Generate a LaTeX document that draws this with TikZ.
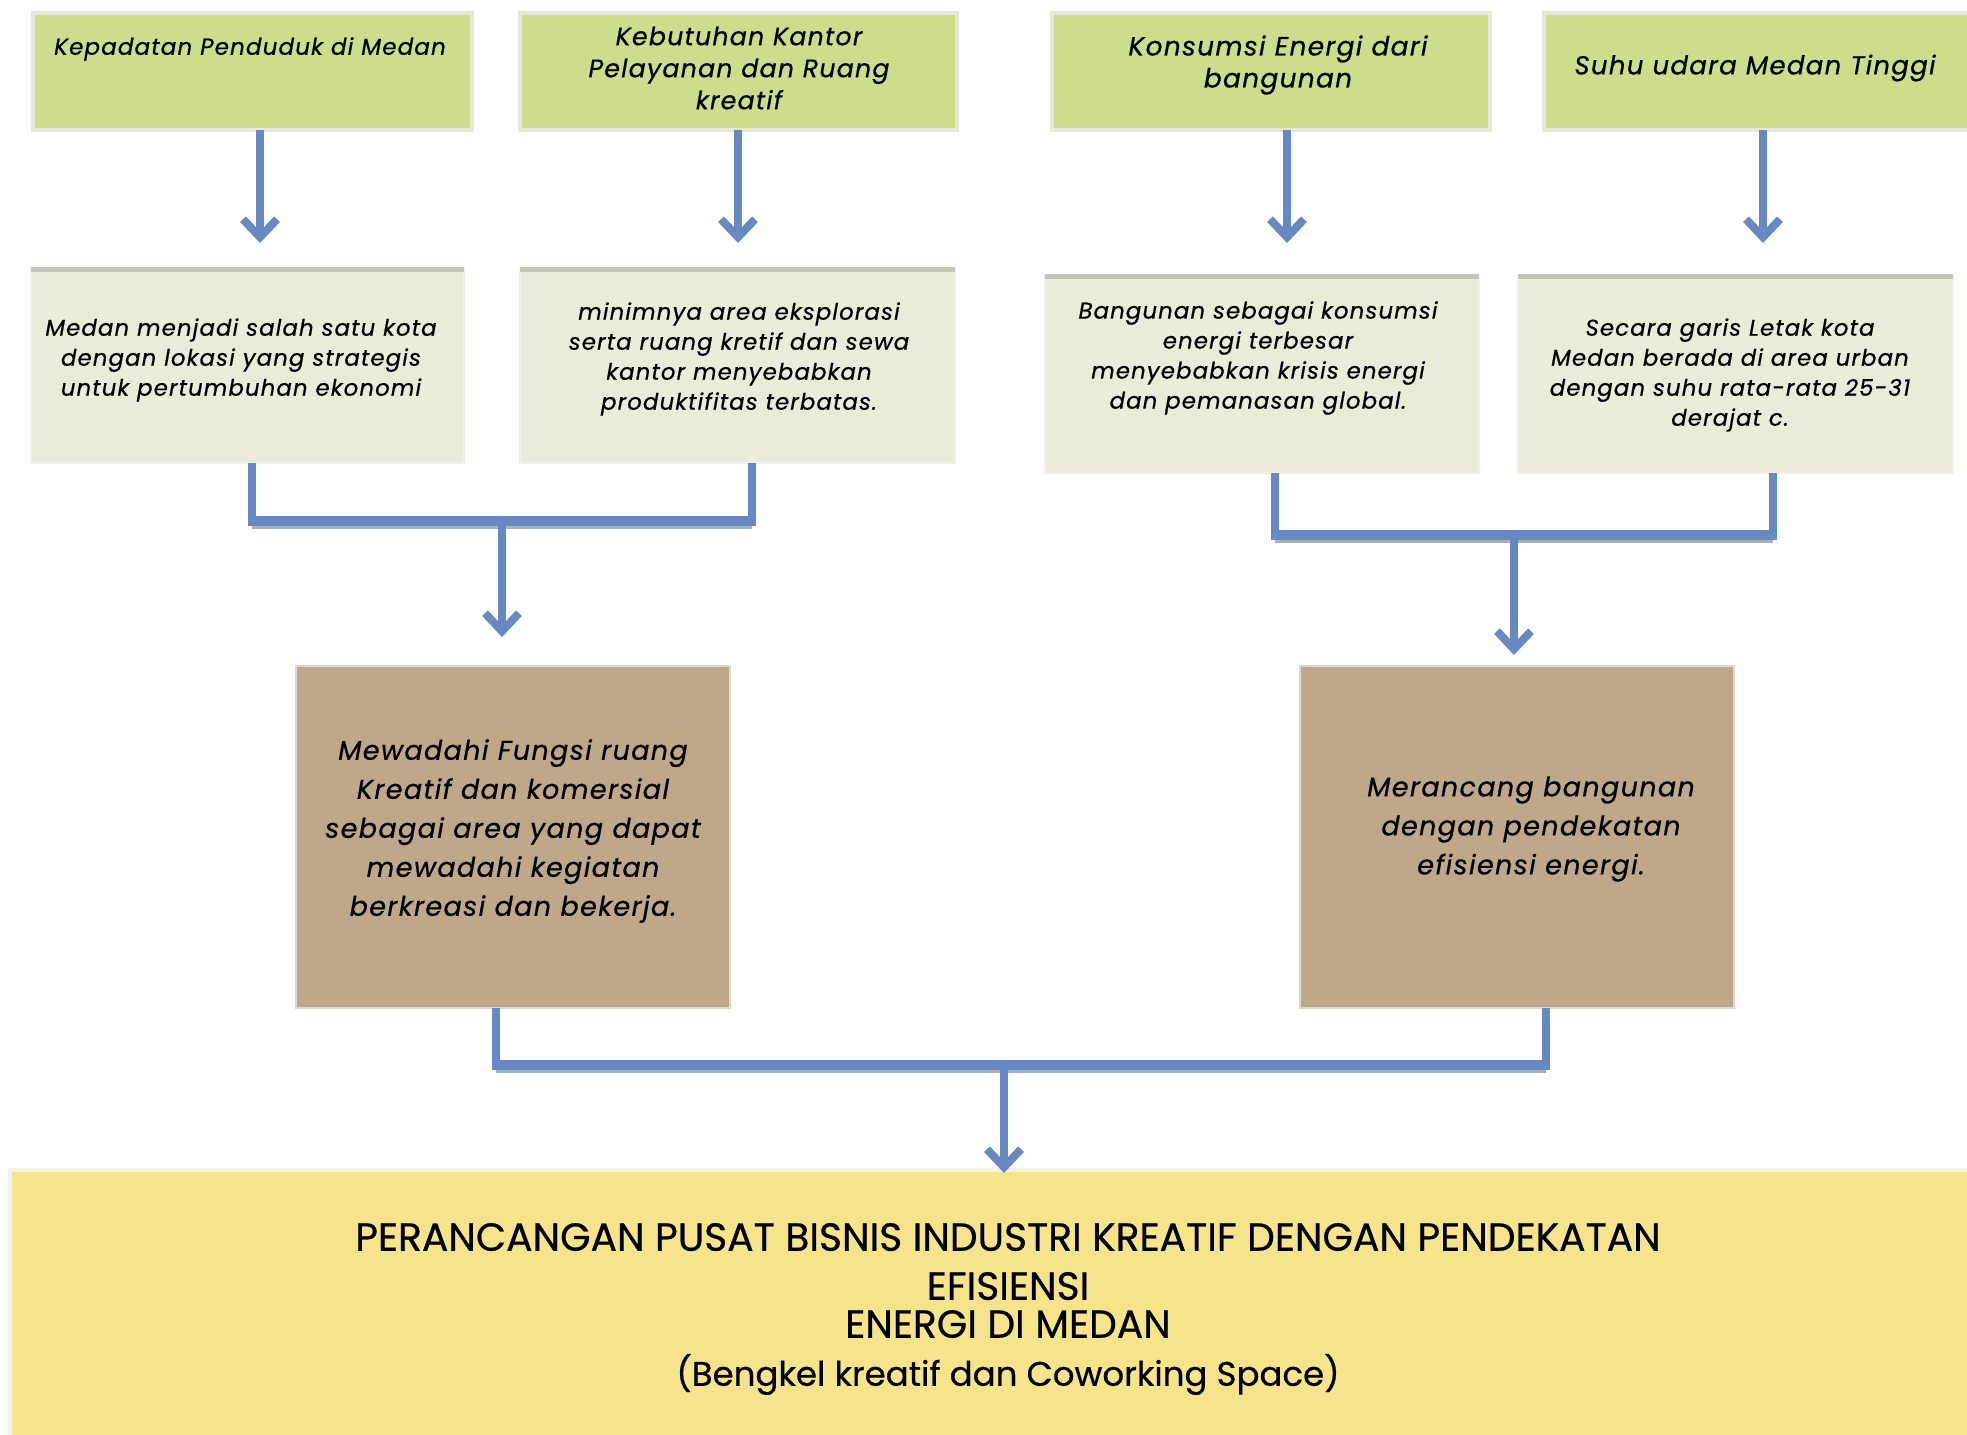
\documentclass[tikz,border=0pt]{standalone}
\usepackage{fontspec}
\setmainfont{Poppins}[FakeBold=0.6]
\newfontfamily\notefont{Poppins}[LetterSpace=5,FakeBold=0.6]
\usetikzlibrary{arrows.meta,fit}

\definecolor{topgreen}{HTML}{CDDD8C}
\definecolor{greenedge}{HTML}{E6E9DA}
\definecolor{factfill}{HTML}{EAEBD9}
\definecolor{factedge}{HTML}{F1F1E9}
\definecolor{factrim}{HTML}{C5C6B8}
\definecolor{aimfill}{HTML}{BFA88A}
\definecolor{aimrim}{HTML}{DCD8D2}
\definecolor{goalfill}{HTML}{F5E48C}
\definecolor{goalrim}{HTML}{F5F1E1}
\definecolor{flowblue}{HTML}{6788C0}
\definecolor{flowshade}{HTML}{A9AFBA}

\begin{document}
\begin{tikzpicture}[x=0.5pt,y=-0.5pt,
  panel/.style={inner sep=0pt, outer sep=0pt},
  causebox/.style={panel, fill=topgreen, draw=greenedge, line width=1.6pt},
  factbox/.style={panel, fill=factfill, draw=factedge, line width=1.2pt},
  aimbox/.style={panel, fill=aimfill, draw=aimrim, line width=1.2pt},
  goalbox/.style={panel, fill=goalfill, draw=goalrim, line width=2pt},
  causetext/.style={font=\notefont\itshape\fontsize{#1}{16}\selectfont, align=center, inner sep=0pt},
  causetext/.default=11.5,
  facttext/.style={font=\notefont\itshape\fontsize{11.4}{15}\selectfont, align=center, inner sep=0pt},
  aimtext/.style={font=\notefont\itshape\fontsize{13.5}{19.5}\selectfont, align=center, inner sep=0pt},
  goaltext/.style={font=\fontsize{19.6}{17.5}\selectfont, align=center, inner sep=0pt},
  rim/.style={line width=2.5pt},
  flow/.style={draw=flowblue, line width=4pt, -{Straight Barb[length=9pt,width=17pt]}},
  link/.style={draw=flowblue, line width=4pt},
  bar/.style={draw=flowblue, line width=5pt},
  barshade/.style={draw=flowshade, line width=5pt, transform canvas={yshift=-1.6pt}},
]
\useasboundingbox (0,0) rectangle (1967,1435);
\clip (0,0) rectangle (1967,1435);

% ---- top row: causes ----
\node[causebox, fit={(33,13) (472,130)}] (g1) {};
\node[causebox, fit={(520,13) (957,130)}] (g2) {};
\node[causebox, fit={(1052,13) (1490,130)}] (g3) {};
\node[causebox, fit={(1544,13) (1985,130)}] (g4) {};

\node[causetext] (g1t) at (250,49) {Kepadatan Penduduk di Medan};
\node[causetext=12.6] (g2t) at (739,68) {Kebutuhan Kantor\\Pelayanan dan Ruang\\kreatif};
\node[causetext=13.2] (g3t) at (1278,65) {Konsumsi Energi dari\\bangunan};
\node[causetext=13] (g4t) at (1755,68) {Suhu udara Medan Tinggi};

% ---- second row: facts ----
\node[factbox, fit={(31,269) (464,463)}] (r1) {};
\node[factbox, fit={(520,269) (955,463)}] (r2) {};
\node[factbox, fit={(1045,276) (1479,473)}] (r3) {};
\node[factbox, fit={(1518,276) (1953,473)}] (r4) {};
\foreach \b in {r1,r2,r3,r4}
  \draw[rim, factrim] (\b.north west) -- (\b.north east);

\node[facttext] (r1t) at (241,360) {Medan menjadi salah satu kota\\dengan lokasi yang strategis\\untuk pertumbuhan ekonomi};
\node[facttext] (r2t) at (739,359) {minimnya area eksplorasi\\serta ruang kretif dan sewa\\kantor menyebabkan\\produktifitas terbatas.};
\node[facttext] (r3t) at (1258,358) {Bangunan sebagai konsumsi\\energi terbesar\\menyebabkan krisis energi\\dan pemanasan global.};
\node[facttext] (r4t) at (1730,375) {Secara garis Letak kota\\Medan berada di area urban\\dengan suhu rata-rata 25-31\\derajat c.};

% ---- third row: aims ----
\node[aimbox, fit={(296,666) (730,1008)}] (b1) {};
\node[aimbox, fit={(1300,666) (1734,1008)}] (b2) {};
\node[aimtext] (b1t) at (513,831) {Mewadahi Fungsi ruang\\Kreatif dan komersial\\sebagai area yang dapat\\mewadahi kegiatan\\berkreasi dan bekerja.};
\node[aimtext] (b2t) at (1531,829) {Merancang bangunan\\dengan pendekatan\\efisiensi energi.};

% ---- bottom: design goal ----
\node[goalbox, fit={(10,1170) (1985,1450)}] (goal) {};
\node[goaltext] (goalt) at (1008,1309) {PERANCANGAN PUSAT BISNIS INDUSTRI KREATIF DENGAN PENDEKATAN\\[7pt]EFISIENSI\\[1.5pt]ENERGI DI MEDAN\\[6.5pt]\fontsize{17}{17.5}\selectfont(Bengkel kreatif dan Coworking Space)};

% ---- arrows from causes to facts ----
\coordinate (a1) at (260,243);
\coordinate (a2) at (738,243);
\coordinate (a3) at (1287,243);
\coordinate (a4) at (1763,243);
\draw[flow] (g1.south -| a1) -- (a1);
\draw[flow] (g2.south -| a2) -- (a2);
\draw[flow] (g3.south -| a3) -- (a3);
\draw[flow] (g4.south -| a4) -- (a4);

% ---- left bracket ----
\coordinate (lb1) at (252,521);
\coordinate (lb2) at (752,521);
\coordinate (lj) at (502,521);
\coordinate (la) at (502,637);
\draw[barshade] (lb1) -- (lb2);
\draw[link] (r1.south -| lb1) -- ([yshift=1pt]lb1);
\draw[link] (r2.south -| lb2) -- ([yshift=1pt]lb2);
\draw[bar] ([xshift=-2pt]lb1) -- ([xshift=2pt]lb2);
\draw[flow] (lj) -- (la);

% ---- right bracket ----
\coordinate (rb1) at (1275,535);
\coordinate (rb2) at (1773,535);
\coordinate (rj) at (1514,535);
\coordinate (ra) at (1514,655);
\draw[barshade] (rb1) -- (rb2);
\draw[link] (r3.south -| rb1) -- ([yshift=1pt]rb1);
\draw[link] (r4.south -| rb2) -- ([yshift=1pt]rb2);
\draw[bar] ([xshift=-2pt]rb1) -- ([xshift=2pt]rb2);
\draw[flow] (rj) -- (ra);

% ---- bottom bracket ----
\coordinate (bb1) at (496,1065);
\coordinate (bb2) at (1546,1065);
\coordinate (bj) at (1004,1065);
\coordinate (ba) at (1004,1173);
\draw[barshade] (bb1) -- (bb2);
\draw[link] (b1.south -| bb1) -- ([yshift=1pt]bb1);
\draw[link] (b2.south -| bb2) -- ([yshift=1pt]bb2);
\draw[bar] ([xshift=-2pt]bb1) -- ([xshift=2pt]bb2);
\draw[flow] (bj) -- (ba);
\end{tikzpicture}
\end{document}
